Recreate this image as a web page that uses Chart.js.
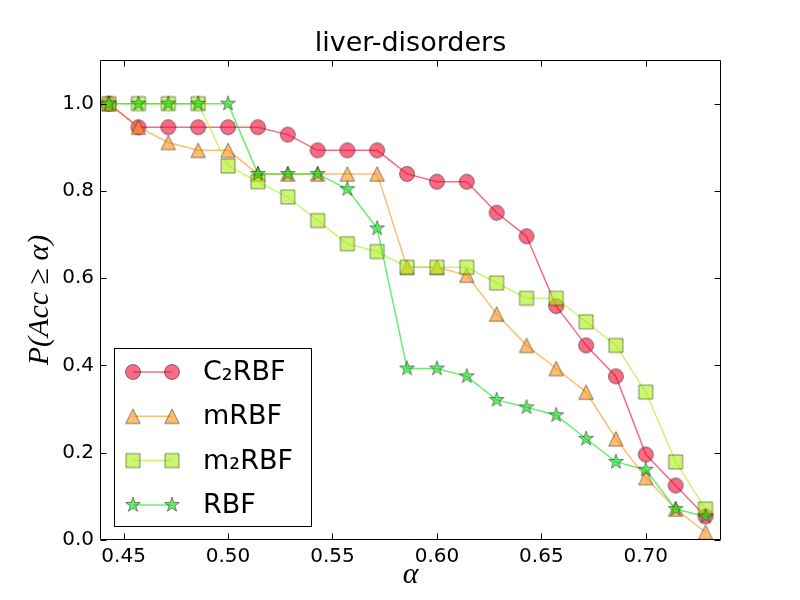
<!DOCTYPE html>
<html lang="en">
<head>
<meta charset="UTF-8">
<title>liver-disorders</title>
<script src="https://cdn.jsdelivr.net/npm/chart.js"></script>
<style>
    body { margin: 0; background: #fff; }
    #chart { display: block; }
</style>
</head>
<body>
<canvas id="chart" width="800" height="600"></canvas>
<script>
// accuracy thresholds (x) and the share of runs reaching them (y)
const alphaValues = [0.4429, 0.4571, 0.4714, 0.4857, 0.5000, 0.5143, 0.5286, 0.5429, 0.5571, 0.5714,
                     0.5857, 0.6000, 0.6143, 0.6286, 0.6429, 0.6571, 0.6714, 0.6857, 0.7000, 0.7143, 0.7286];
const c2rbfValues = [1.000, 0.946, 0.946, 0.946, 0.946, 0.946, 0.929, 0.893, 0.893, 0.893,
                     0.839, 0.821, 0.821, 0.750, 0.696, 0.536, 0.446, 0.375, 0.196, 0.125, 0.054];
const mrbfValues  = [1.000, 0.946, 0.911, 0.893, 0.893, 0.839, 0.839, 0.839, 0.839, 0.839,
                     0.625, 0.625, 0.607, 0.518, 0.446, 0.393, 0.339, 0.232, 0.143, 0.071, 0.018];
const m2rbfValues = [1.000, 1.000, 1.000, 1.000, 0.857, 0.821, 0.786, 0.732, 0.679, 0.661,
                     0.625, 0.625, 0.625, 0.589, 0.554, 0.554, 0.500, 0.446, 0.339, 0.179, 0.071];
const rbfValues   = [1.000, 1.000, 1.000, 1.000, 1.000, 0.839, 0.839, 0.839, 0.804, 0.714,
                     0.393, 0.393, 0.375, 0.321, 0.304, 0.286, 0.232, 0.179, 0.161, 0.071, 0.054];
const seriesNames = ['C\u2082RBF', 'mRBF', 'm\u2082RBF', 'RBF'];
const xTickValues = [0.45, 0.50, 0.55, 0.60, 0.65, 0.70];
const yTickValues = [0.0, 0.2, 0.4, 0.6, 0.8, 1.0];

const EDGE = 'rgba(0,0,0,0.45)';

// little canvases used as point styles (matplotlib-like markers)
function makeMarker(shape, fill) {
    const c = document.createElement('canvas');
    c.width = 20; c.height = 20;
    const g = c.getContext('2d');
    const m = 10;
    g.beginPath();
    if (shape === 'circle') {
        g.arc(m, m, 7.5, 0, Math.PI * 2);
    } else if (shape === 'triangle') {
        g.moveTo(m, m - 7.2);
        g.lineTo(m + 7.2, m + 7.2);
        g.lineTo(m - 7.2, m + 7.2);
        g.closePath();
    } else if (shape === 'square') {
        g.rect(m - 7, m - 7, 14, 14);
    } else {
        for (let i = 0; i < 10; i++) {
            const r = i % 2 ? 3.0 : 7.8;
            const a = -Math.PI / 2 + i * Math.PI / 5;
            g.lineTo(m + r * Math.cos(a), m + r * Math.sin(a));
        }
        g.closePath();
    }
    g.fillStyle = fill;
    g.fill();
    g.lineWidth = 1;
    g.strokeStyle = EDGE;
    g.stroke();
    return c;
}

const seriesStyles = [
    { color: 'rgba(240,10,50,0.6)',  marker: makeMarker('circle',   'rgba(240,10,50,0.6)') },
    { color: 'rgba(250,147,22,0.6)', marker: makeMarker('triangle', 'rgba(250,147,22,0.6)') },
    { color: 'rgba(170,238,22,0.6)', marker: makeMarker('square',   'rgba(170,238,22,0.6)') },
    { color: 'rgba(10,225,20,0.6)',  marker: makeMarker('star',     'rgba(10,225,20,0.6)') }
];
const seriesValues = [c2rbfValues, mrbfValues, m2rbfValues, rbfValues];

const datasets = seriesValues.map((vals, i) => ({
    label: seriesNames[i],
    data: vals.map((v, k) => ({ x: alphaValues[k], y: v })),
    borderColor: seriesStyles[i].color,
    backgroundColor: seriesStyles[i].color,
    borderWidth: 1.5,
    pointStyle: seriesStyles[i].marker,
    pointRadius: 8,
    tension: 0,
    fill: false,
    order: seriesValues.length - i
}));

// box, inward ticks on all four sides
const framePlugin = {
    id: 'frame',
    afterDatasetsDraw(chart) {
        const ctx = chart.ctx;
        const a = chart.chartArea;
        const L = Math.round(a.left) + 0.5, R = Math.round(a.right) - 0.5;
        const T = Math.round(a.top) + 0.5, B = Math.round(a.bottom) - 0.5;
        ctx.save();
        ctx.strokeStyle = '#000';
        ctx.lineWidth = 1;
        ctx.beginPath();
        ctx.rect(L, T, R - L, B - T);
        const tl = 6;
        chart.scales.x.ticks.forEach(t => {
            const px = Math.round(chart.scales.x.getPixelForValue(t.value)) + 0.5;
            ctx.moveTo(px, B); ctx.lineTo(px, B - tl);
            ctx.moveTo(px, T); ctx.lineTo(px, T + tl);
        });
        chart.scales.y.ticks.forEach(t => {
            const py = Math.round(chart.scales.y.getPixelForValue(t.value)) + 0.5;
            ctx.moveTo(L, py); ctx.lineTo(L + tl, py);
            ctx.moveTo(R, py); ctx.lineTo(R - tl, py);
        });
        ctx.stroke();
        ctx.restore();
    }
};

// legend in the lower left corner, drawn like matplotlib's
const legendPlugin = {
    id: 'boxLegend',
    afterDraw(chart) {
        const ctx = chart.ctx;
        const a = chart.chartArea;
        const w = 197, h = 178;
        const x0 = a.left + 14, y0 = a.bottom - 14 - h;
        ctx.save();
        ctx.fillStyle = '#fff';
        ctx.fillRect(x0, y0, w, h);
        ctx.strokeStyle = '#000';
        ctx.lineWidth = 1;
        ctx.strokeRect(Math.round(x0) + 0.5, Math.round(y0) + 0.5, w, h);
        ctx.font = '27px "DejaVu Sans"';
        ctx.textBaseline = 'middle';
        ctx.textAlign = 'left';
        seriesNames.forEach((name, i) => {
            const y = y0 + 24 + i * 44.3;
            const st = seriesStyles[i];
            ctx.strokeStyle = st.color;
            ctx.lineWidth = 1.5;
            ctx.beginPath();
            ctx.moveTo(x0 + 19, y); ctx.lineTo(x0 + 58, y);
            ctx.stroke();
            ctx.drawImage(st.marker, x0 + 19 - 10, y - 10);
            ctx.drawImage(st.marker, x0 + 58 - 10, y - 10);
            ctx.fillStyle = '#000';
            ctx.fillText(name, x0 + 89, y + 1);
        });
        ctx.restore();
    }
};

const tickFont = { family: 'DejaVu Sans', size: 20 };

new Chart(document.getElementById('chart'), {
    type: 'line',
    data: { datasets: datasets },
    options: {
        responsive: false,
        animation: false,
        devicePixelRatio: 1,
        layout: { padding: { left: 0, right: 79, top: 0, bottom: 0 } },
        plugins: {
            legend: { display: false },
            tooltip: { enabled: false },
            title: {
                display: true,
                text: 'liver-disorders',
                fullSize: false,
                color: '#000',
                font: { family: 'DejaVu Sans', size: 27, weight: 'normal', lineHeight: 1.2 },
                padding: { top: 27.6, bottom: 0 }
            }
        },
        scales: {
            x: {
                type: 'linear',
                min: 0.4387,
                max: 0.736,
                afterFit: s => { s.height = 60; },
                afterBuildTicks: s => { s.ticks = xTickValues.map(v => ({ value: v })); },
                grid: { display: false, drawTicks: false },
                border: { display: false },
                ticks: {
                    autoSkip: false,
                    maxRotation: 0,
                    color: '#000',
                    font: tickFont,
                    padding: 5,
                    callback: v => v.toFixed(2)
                },
                title: {
                    display: true,
                    text: '\u03b1',
                    color: '#000',
                    font: { family: 'Liberation Serif', size: 30, style: 'italic', lineHeight: 1.2 },
                    padding: { top: 7, bottom: 7 }
                }
            },
            y: {
                min: 0,
                max: 1.1,
                afterFit: s => { s.width = 100; },
                afterBuildTicks: s => { s.ticks = yTickValues.map(v => ({ value: v })); },
                grid: { display: false, drawTicks: false },
                border: { display: false },
                ticks: {
                    autoSkip: false,
                    color: '#000',
                    font: tickFont,
                    padding: 6,
                    callback: v => v.toFixed(1)
                },
                title: {
                    display: true,
                    text: 'P(Acc \u2265 \u03b1)',
                    color: '#000',
                    font: { family: 'Liberation Serif', size: 30, style: 'italic', lineHeight: 1.2 },
                    padding: { top: 22, bottom: 22 }
                }
            }
        }
    },
    plugins: [framePlugin, legendPlugin]
});
</script>
</body>
</html>
